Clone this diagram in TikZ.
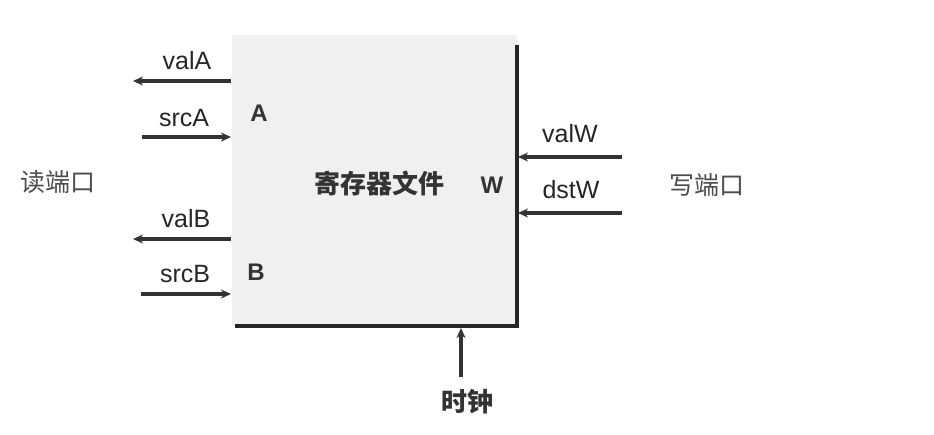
\documentclass[tikz,border=0pt]{standalone}
\usepackage{fontspec}
\setmainfont{Liberation Sans}
\newfontfamily\cjk{Noto Sans CJK SC}
\usetikzlibrary{arrows.meta}
\begin{document}
\begin{tikzpicture}[x=1pt,y=-1pt,
  sig/.style={line width=3.4pt,-{Stealth[length=10pt,width=9pt]},color=black!80},
  lbl/.style={font=\fontsize{25}{25}\selectfont,text=black!85,inner sep=0pt},
  port/.style={font=\fontsize{24}{24}\selectfont\bfseries,text=black!80,inner sep=0pt},
  cn/.style={font=\cjk\fontsize{25}{25}\selectfont,text=black!70,inner sep=0pt},
  cnb/.style={font=\cjk\fontsize{26}{26}\selectfont\bfseries,text=black!80,inner sep=0pt}]
\useasboundingbox (0,0) rectangle (934,434);
\fill[white] (0,0) rectangle (934,434);
% register file box
\node[fill=black!6,draw=none,minimum width=285pt,minimum height=291pt,inner sep=0pt,anchor=north west] (rf) at (232,35) {};
\draw[line width=3.4pt,color=black!85] (517,45) -- (517,326) -- (235,326);
\node[cnb] (title) at (379,183) {寄存器文件};
\node[port] (pA) at (259,113) {A};
\node[port] (pB) at (256,272) {B};
\node[port] (pW) at (492,185) {W};
% coordinates
\coordinate (vaL) at (133,81);  \coordinate (vaR) at (231,81);
\coordinate (saL) at (142,137); \coordinate (saR) at (231,137);
\coordinate (vbL) at (133,239); \coordinate (vbR) at (231,239);
\coordinate (sbL) at (141,294); \coordinate (sbR) at (231,294);
\coordinate (vwR) at (622,157); \coordinate (vwL) at (518,157);
\coordinate (dwR) at (622,213); \coordinate (dwL) at (518,213);
\coordinate (ckB) at (461,377); \coordinate (ckT) at (461,328);
% arrows
\draw[sig] (vaR) -- (vaL);
\draw[sig] (saL) -- (saR);
\draw[sig] (vbR) -- (vbL);
\draw[sig] (sbL) -- (sbR);
\draw[sig] (vwR) -- (vwL);
\draw[sig] (dwR) -- (dwL);
\draw[sig] (ckB) -- (ckT);
% labels
\node[lbl] (lvA) at (187,61) {valA};
\node[lbl] (lsA) at (184,118) {srcA};
\node[lbl] (lvB) at (186,219) {valB};
\node[lbl] (lsB) at (185,274) {srcB};
\node[lbl] (lvW) at (570,134) {valW};
\node[lbl] (ldW) at (571,190) {dstW};
\node[cn] (rd) at (58,182) {读端口};
\node[cn] (wr) at (707,185) {写端口};
\node[cnb] (clk) at (467,402) {时钟};
\end{tikzpicture}
\end{document}
